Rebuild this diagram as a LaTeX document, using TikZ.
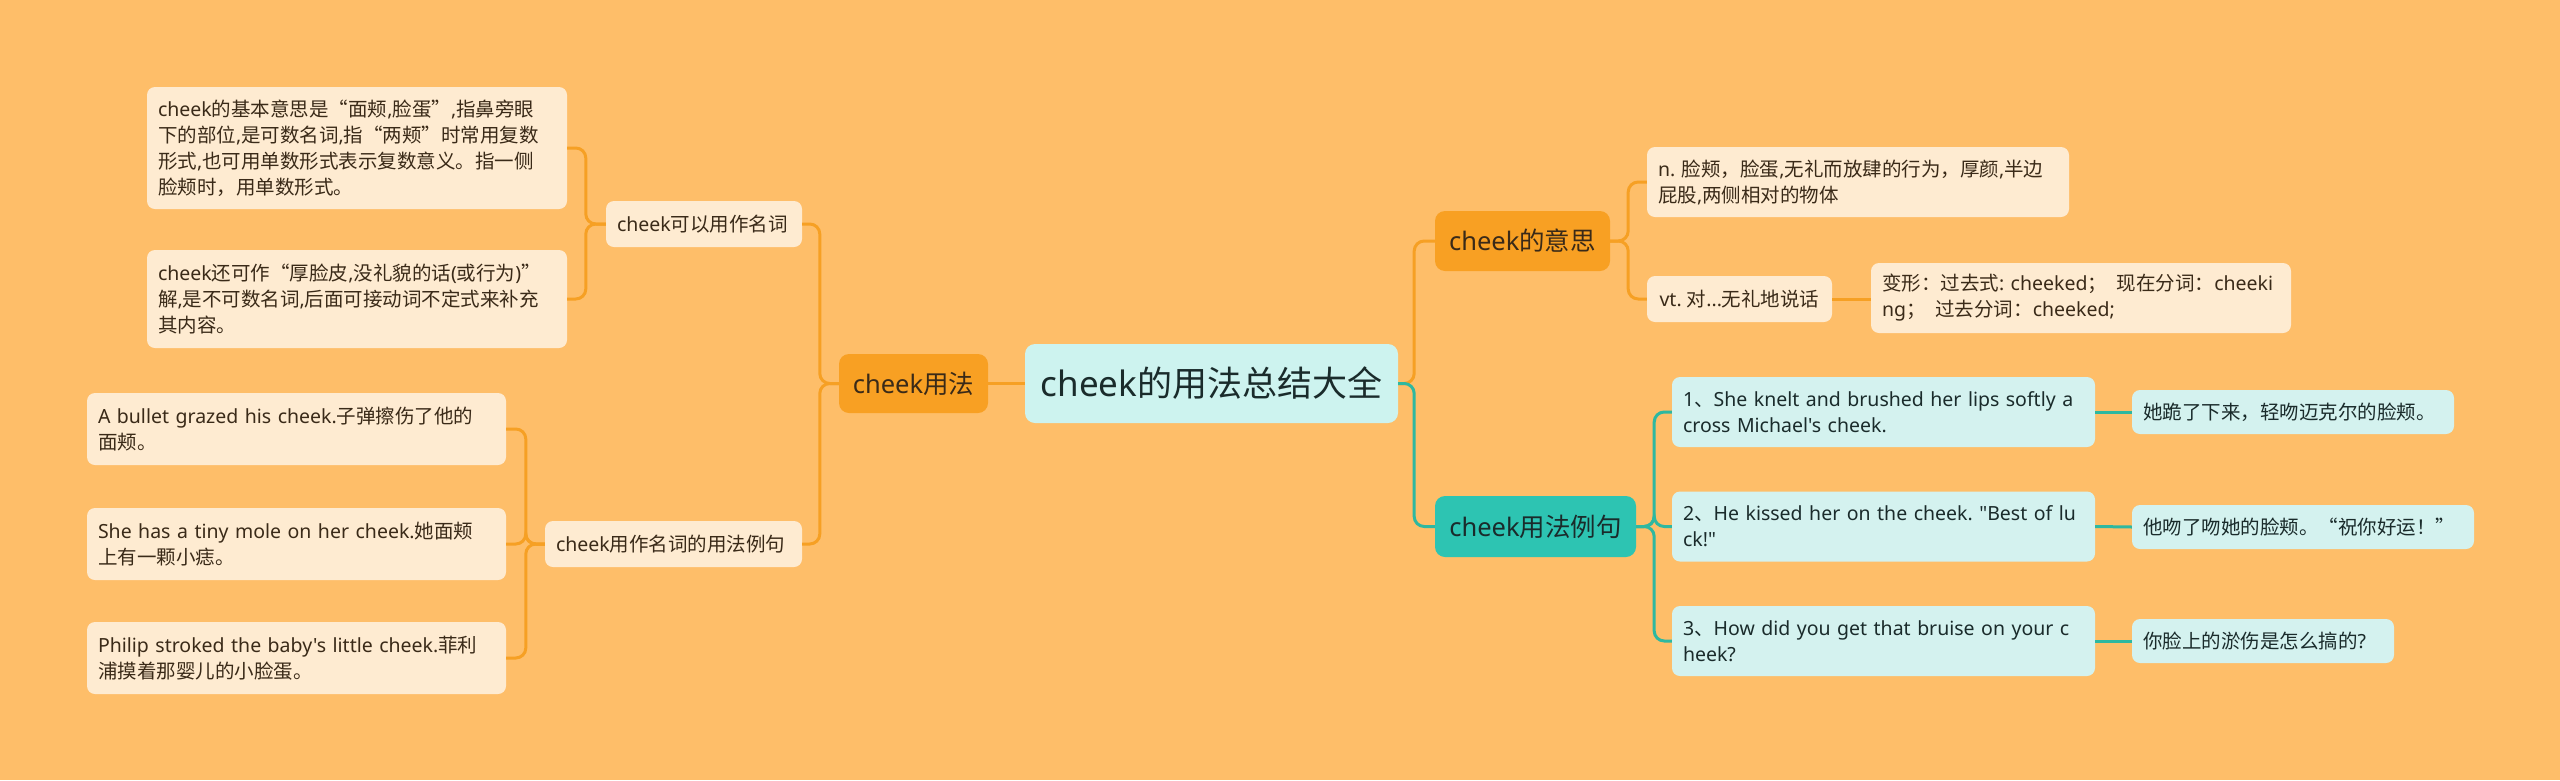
\documentclass[tikz,border=0pt]{standalone}
\usepackage{fontspec}
\newfontfamily\cjkf{Noto Sans CJK SC}
\newfontfamily\enf{Noto Sans}
\newcommand\EN[1]{{\enf #1}}
\frenchspacing
\definecolor{bg}{HTML}{FEBE69}
\definecolor{orn}{HTML}{F8A023}
\definecolor{orleaf}{HTML}{FEEBD1}
\definecolor{teal1}{HTML}{2DC4B2}
\definecolor{tealleaf}{HTML}{D4F2EF}
\definecolor{rootc}{HTML}{CDF3EF}
\definecolor{txtbr}{HTML}{3A2A18}
\definecolor{txtdk}{HTML}{1A2B2B}
\definecolor{lineo}{HTML}{F6A024}
\definecolor{linet}{HTML}{2EB8A0}
\tikzset{
  base/.style={inner sep=0pt, rounded corners=8pt, font=\cjkf\fontsize{19.5}{26}\selectfont, align=left},
  leafo/.style={base, fill=orleaf, text=txtbr},
  leaft/.style={base, fill=tealleaf, text=txtdk},
  mainnode/.style={inner sep=0pt, rounded corners=10pt, font=\cjkf\fontsize{25.5}{30}\selectfont, align=center},
  lo/.style={draw=lineo, line width=3pt, rounded corners=10pt},
  lt/.style={draw=linet, line width=3pt, rounded corners=10pt},
}
\begin{document}
\begin{tikzpicture}[x=1pt,y=-1pt]
\useasboundingbox (0,0) rectangle (2560,780);
\fill[bg] (0,0) rectangle (2560,780);

% root
\node[mainnode, fill=rootc, text=txtdk, minimum width=373pt, minimum height=79pt,
      font=\cjkf\fontsize{35}{40}\selectfont] (root) at (1211.5,383.5) {\EN{cheek}的用法总结大全};

% left side
\node[mainnode, fill=orn, text=txtbr, minimum width=149pt, minimum height=59pt] (usage) at (913.5,383.5) {\EN{cheek}用法};
\node[leafo, minimum width=196pt, minimum height=46pt, text width=174pt] (noun) at (704,224) {\EN{cheek}可以用作名词};
\node[leafo, minimum width=257pt, minimum height=46pt, text width=235pt] (nounex) at (673.5,544) {\EN{cheek}用作名词的用法例句};
\node[leafo, minimum width=420pt, minimum height=122pt, text width=398pt] (leafa) at (357,148)
  {\EN{cheek}的基本意思是“面颊\EN{,}脸蛋”\EN{,}指鼻旁眼\\下的部位\EN{,}是可数名词\EN{,}指“两颊”时常用复数\\形式\EN{,}也可用单数形式表示复数意义。指一侧\\脸颊时，用单数形式。};
\node[leafo, minimum width=420pt, minimum height=98pt, text width=398pt] (leafb) at (357,299)
  {\EN{cheek}还可作“厚脸皮\EN{,}没礼貌的话\EN{(}或行为\EN{)}”\\解\EN{,}是不可数名词\EN{,}后面可接动词不定式来补充\\其内容。};
\node[leafo, minimum width=419pt, minimum height=72pt, text width=397pt] (exa) at (296.5,429)
  {\EN{A bullet grazed his cheek.}子弹擦伤了他的\\面颊。};
\node[leafo, minimum width=419pt, minimum height=72pt, text width=397pt] (exb) at (296.5,544)
  {\EN{She has a tiny mole on her cheek.}她面颊\\上有一颗小痣。};
\node[leafo, minimum width=419pt, minimum height=72pt, text width=397pt] (exc) at (296.5,658)
  {\EN{Philip stroked the baby's little cheek.}菲利\\浦摸着那婴儿的小脸蛋。};

% right side: meaning
\node[mainnode, fill=orn, text=txtbr, minimum width=175pt, minimum height=60pt] (meaning) at (1522.5,241) {\EN{cheek}的意思};
\node[leafo, minimum width=422pt, minimum height=70pt, text width=400pt] (nleaf) at (1858,182)
  {\EN{n.} 脸颊，脸蛋\EN{,}无礼而放肆的行为，厚颜\EN{,}半边\\屁股\EN{,}两侧相对的物体};
\node[leafo, minimum width=185pt, minimum height=46pt] (vtleaf) at (1739.5,299)
  {\EN{vt. }对\EN{...}无礼地说话};
\node[leafo, minimum width=420pt, minimum height=70pt, text width=398pt] (forms) at (2081,298)
  {\mbox{变形：过去式\EN{:\ cheeked}；\enspace 现在分词：\EN{cheeki}}\\\EN{ng}；\enspace 过去分词：\EN{cheeked;}};

% right side: examples
\node[mainnode, fill=teal1, text=txtdk, minimum width=201pt, minimum height=61pt] (examples) at (1535.5,526.5) {\EN{cheek}用法例句};
\node[leaft, minimum width=423pt, minimum height=70pt, text width=401pt] (ea) at (1883.5,412)
  {\EN{1}、\EN{She knelt and brushed her lips softly a}\\\EN{cross Michael's cheek.}};
\node[leaft, minimum width=423pt, minimum height=70pt, text width=401pt] (eb) at (1883.5,526.5)
  {\EN{2}、\EN{He kissed her on the cheek. "Best of lu}\\\EN{ck!"}};
\node[leaft, minimum width=423pt, minimum height=70pt, text width=401pt] (ec) at (1883.5,641)
  {\EN{3}、\EN{How did you get that bruise on your c}\\\EN{heek?}};
\node[leaft, minimum width=322pt, minimum height=44pt, text width=300pt] (ta) at (2293,412)
  {她跪了下来，轻吻迈克尔的脸颊。};
\node[leaft, minimum width=342pt, minimum height=44pt, text width=320pt] (tb) at (2303,527)
  {他吻了吻她的脸颊。“祝你好运！”};
\node[leaft, minimum width=262pt, minimum height=44pt, text width=240pt] (tc) at (2263,641)
  {你脸上的淤伤是怎么搞的\EN{?}};

% connectors left
\draw[lo] (root.west) -- (usage.east);
\draw[lo] (usage.west) -- ++(-19,0) |- (noun.east);
\draw[lo] (usage.west) -- ++(-19,0) |- (nounex.east);
\draw[lo] (noun.west) -- ++(-20,0) |- (leafa.east);
\draw[lo] (noun.west) -- ++(-20,0) |- (leafb.east);
\draw[lo] (nounex.west) -- ++(-19,0) |- (exa.east);
\draw[lo] (nounex.west) -- ++(-19,0) |- (exb.east);
\draw[lo] (nounex.west) -- ++(-19,0) |- (exc.east);

% connectors right
\draw[lo] (root.east) -- ++(16,0) |- (meaning.west);
\draw[lt] (root.east) -- ++(16,0) |- (examples.west);
\draw[lo] (meaning.east) -- ++(18,0) |- (nleaf.west);
\draw[lo] (meaning.east) -- ++(18,0) |- (vtleaf.west);
\draw[lo] (vtleaf.east) -- (vtleaf.east -| forms.west);
\draw[lt] (examples.east) -- ++(18,0) |- (ea.west);
\draw[lt] (examples.east) -- ++(18,0) |- (eb.west);
\draw[lt] (examples.east) -- ++(18,0) |- (ec.west);
\draw[lt] (ea.east) -- (ta.west);
\draw[lt] (eb.east) -- (tb.west);
\draw[lt] (ec.east) -- (tc.west);
\end{tikzpicture}
\end{document}
